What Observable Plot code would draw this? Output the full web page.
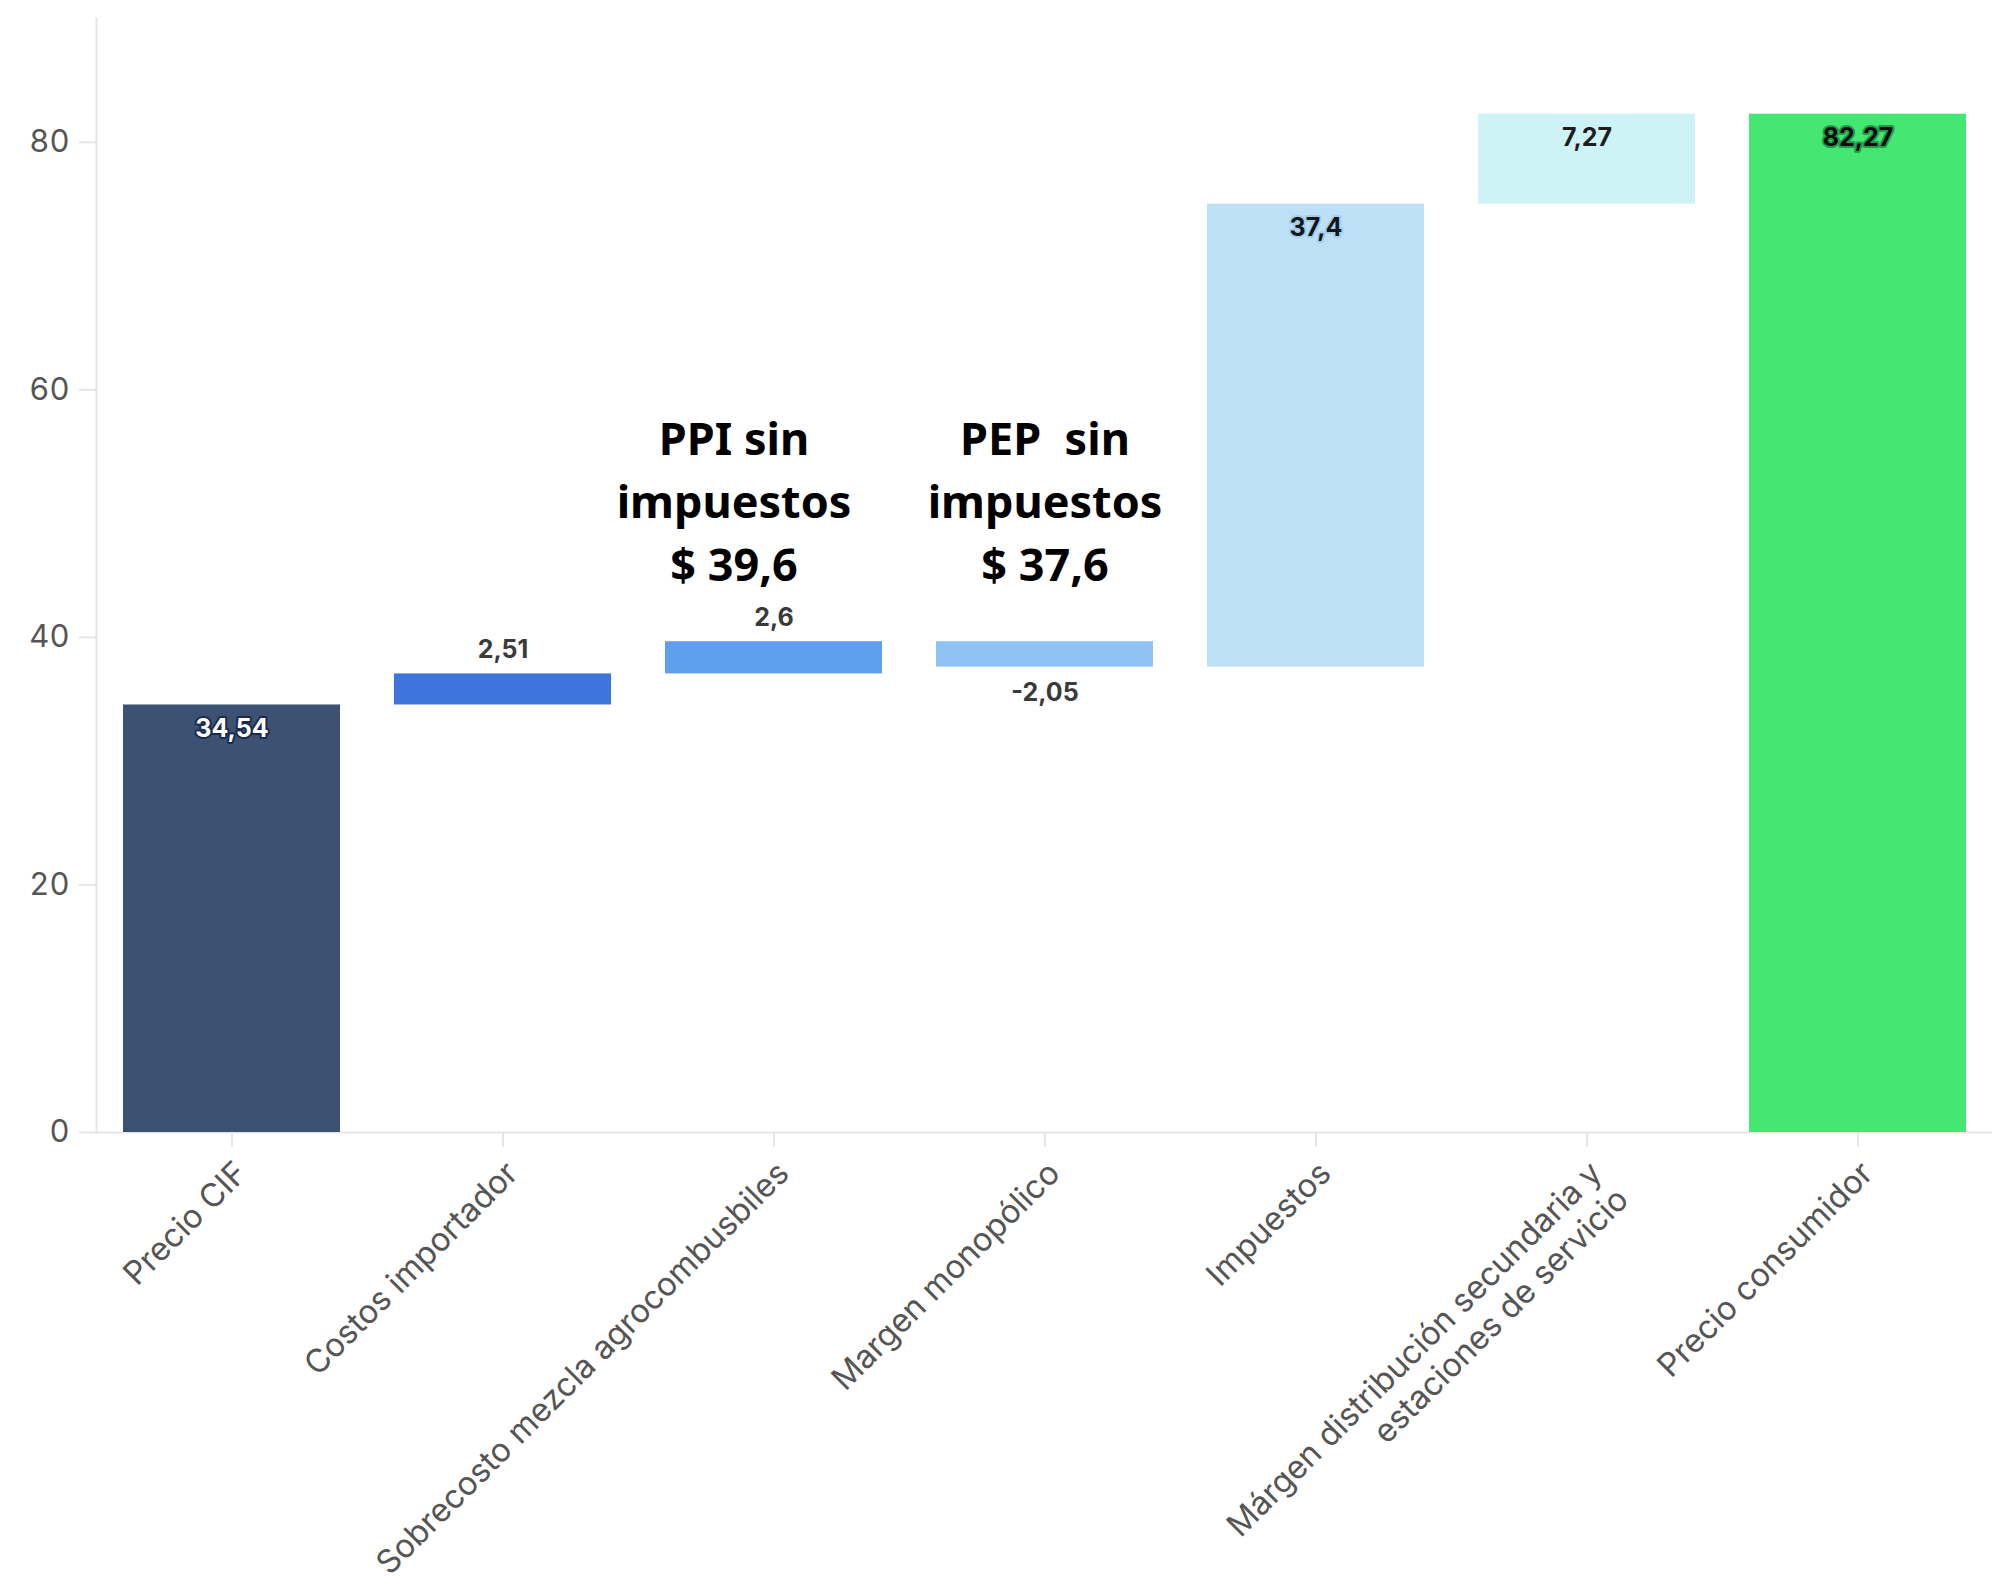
<!DOCTYPE html>
<html>
<head>
<meta charset="utf-8">
<script src="https://cdn.jsdelivr.net/npm/d3@7"></script>
<script src="https://cdn.jsdelivr.net/npm/@observablehq/plot@0.6"></script>
<style>
  html, body { margin: 0; padding: 0; background: #fff; }
</style>
</head>
<body>
<div id="chart"></div>
<script>
// Price build-up of fuel: each step of the waterfall, from import price to consumer price
const categories = [
  "Precio CIF",
  "Costos importador",
  "Sobrecosto mezcla agrocombusbiles",
  "Margen monopólico",
  "Impuestos",
  "Márgen distribución secundaria y\nestaciones de servicio",
  "Precio consumidor"
];
const values = [34.54, 2.51, 2.6, -2.05, 37.4, 7.27, 82.27];
const isTotal = [true, false, false, false, false, false, true];
const barColors = ["#3d5172", "#3f74dd", "#5ea0ee", "#8fc3f3", "#bde0f7", "#cdf3f7", "#43e772"];
const yTicks = [0, 20, 40, 60, 80];
const annotationTexts = ["PPI sin\nimpuestos\n$ 39,6", "PEP  sin\nimpuestos\n$ 37,6"];
const annotationCategories = [categories[2], categories[3]];

// Value-label colours (text fill and halo) per step
const labelFill = ["#ffffff", "#3a3a3a", "#3a3a3a", "#3a3a3a", "#151515", "#1e1e1e", "#0c0c0c"];
const labelHalo = ["#1a2a4c", "#ffffff", "#ffffff", "#ffffff", "#9fd0f3", "#cdf3f7", "#1f9e48"];

// Running totals give each bar its start and end
let running = 0;
const rows = categories.map((category, i) => {
  const v = values[i];
  let y1, y2;
  if (isTotal[i]) { y1 = 0; y2 = v; running = v; }
  else { y1 = running; y2 = running + v; running = y2; }
  const place = Math.abs(v) >= 5 ? "inside" : v > 0 ? "above" : "below";
  return {
    category, value: v, y1, y2,
    top: Math.max(y1, y2), bottom: Math.min(y1, y2),
    color: barColors[i],
    label: String(v).replace(".", ","),
    place, fill: labelFill[i], halo: labelHalo[i]
  };
});

const labelFont = {fontFamily: "Inter", fontSize: 25, fontWeight: 700, lineAnchor: "middle", strokeWidth: 4};
const noteFont = {fontFamily: "Noto Sans", fontSize: 45, fontWeight: 700, lineHeight: 1.4, fill: "#000", lineAnchor: "middle"};

const chart = Plot.plot({
  width: 2005,
  height: 1578,
  marginLeft: 96,
  marginRight: 13,
  marginTop: 18,
  marginBottom: 446,
  x: {domain: categories, paddingInner: 0.2, paddingOuter: 0.09, axis: null},
  y: {domain: [0, 90], axis: null},
  color: {type: "identity"},
  style: {fontFamily: "Inter", background: "#ffffff", overflow: "visible"},
  marks: [
    Plot.frame({anchor: "left", stroke: "#e6e6e6", strokeWidth: 2}),
    Plot.ruleY([0], {stroke: "#e6e6e6", strokeWidth: 2}),
    Plot.axisY({ticks: yTicks, tickSize: 17, tickPadding: 10, stroke: "#e6e6e6", strokeWidth: 2, fill: "#555", fontSize: 31, label: null}),
    // x ticks drawn on their own; rotated category names below them
    Plot.axisX({tickSize: 15, stroke: "#e6e6e6", strokeWidth: 2, text: null, label: null}),
    Plot.axisX({tickSize: 0, tickRotate: -45, tickPadding: 9, dx: -2, dy: 15, lineAnchor: "top", lineHeight: 1.15, fill: "#555", fontSize: 32.5, label: null}),
    Plot.barY(rows, {x: "category", y1: "y1", y2: "y2", fill: "color"}),
    Plot.text(rows.filter(d => d.place === "inside"), {x: "category", y: "top", dy: 24, text: "label", fill: "fill", stroke: "halo", ...labelFont}),
    Plot.text(rows.filter(d => d.place === "above"), {x: "category", y: "top", dy: -24, text: "label", fill: "fill", stroke: "halo", ...labelFont}),
    Plot.text(rows.filter(d => d.place === "below"), {x: "category", y: "bottom", dy: 26, text: "label", fill: "fill", stroke: "halo", ...labelFont}),
    Plot.text([annotationTexts[0]], {x: () => annotationCategories[0], y: () => 51.3, dx: -40, text: d => d, ...noteFont}),
    Plot.text([annotationTexts[1]], {x: () => annotationCategories[1], y: () => 51.3, text: d => d, ...noteFont})
  ]
});

document.getElementById("chart").appendChild(chart);
</script>
</body>
</html>
